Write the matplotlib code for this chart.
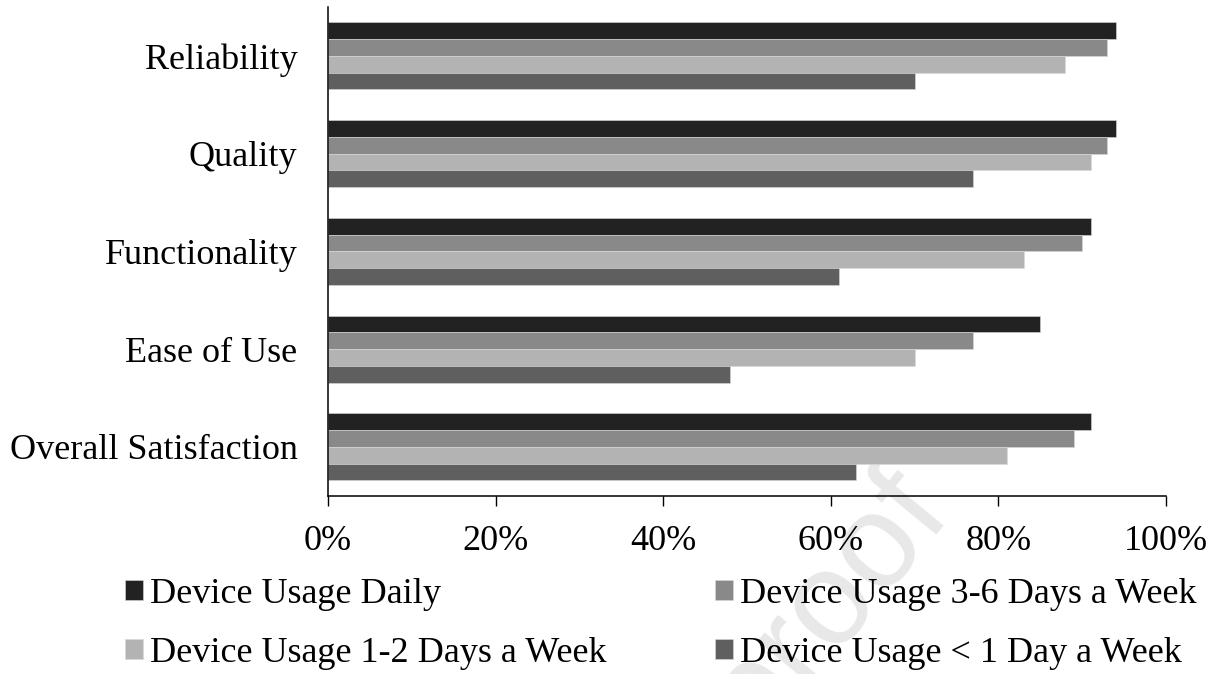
import matplotlib
matplotlib.use("Agg")
import matplotlib.pyplot as plt
import numpy as np

categories = ["Reliability", "Quality", "Functionality", "Ease of Use", "Overall Satisfaction"]
series_names = ["Device Usage Daily", "Device Usage 3-6 Days a Week",
                "Device Usage 1-2 Days a Week", "Device Usage < 1 Day a Week"]
daily = [94, 94, 91, 85, 91]
days_3_6 = [93, 93, 90, 77, 89]
days_1_2 = [88, 91, 83, 70, 81]
less_1 = [70, 77, 61, 48, 63]
colors = ["#222222", "#898989", "#b3b3b3", "#5f5f5f"]
x_ticks = [0, 20, 40, 60, 80, 100]

plt.rcParams["font.family"] = ["Liberation Serif", "DejaVu Serif"]

fig = plt.figure(figsize=(12.17, 6.74), dpi=100)
ax = fig.add_axes([328 / 1217, 1 - 495.7 / 674, (1166 - 328) / 1217, (495.7 - 7) / 674])
ax.set_facecolor("none")

# watermark behind everything
fig.text(954 / 1217, 1 - 515 / 674, "Journal Pre-proof", fontsize=96, color="#e8e8e8",
         family="Liberation Sans", rotation=50.5, rotation_mode="anchor",
         ha="right", va="baseline", zorder=-5)

all_series = [daily, days_3_6, days_1_2, less_1]
n = len(categories)
ypos = np.arange(n)[::-1]
h = 0.1715
bars = []
for i, (vals, c) in enumerate(zip(all_series, colors)):
    offset = (1.5 - i) * h
    b = ax.barh(ypos + offset, vals, height=h, color=c, edgecolor="#d8d8d8", linewidth=0.4,
                label=series_names[i])
    bars.append(b)

ax.set_xlim(0, 100)
ax.set_ylim(-0.5, n - 0.5)
ax.set_yticks(ypos)
ax.set_yticklabels(categories, fontsize=26)
ax.set_xticks(x_ticks)
ax.set_xticklabels(["{}%".format(t) for t in x_ticks], fontsize=26)
ax.tick_params(axis="y", length=0, pad=22)
ax.tick_params(axis="x", length=7, width=1, direction="out", pad=14)
for s in ["top", "right"]:
    ax.spines[s].set_visible(False)
for s in ["left", "bottom"]:
    ax.spines[s].set_linewidth(1.1)

# row-wise order for a 2-column legend
order = [0, 2, 1, 3]
fig.legend([bars[i] for i in order], [series_names[i] for i in order],
           loc="upper left", bbox_to_anchor=(125 / 1217, 1 - 578 / 674), ncol=2,
           frameon=False, fontsize=26, handlelength=0.5, handleheight=0.5,
           handletextpad=0.2, columnspacing=3.0, labelspacing=0.72, borderpad=0,
           borderaxespad=0)

fig.savefig("out.png", dpi=100)
